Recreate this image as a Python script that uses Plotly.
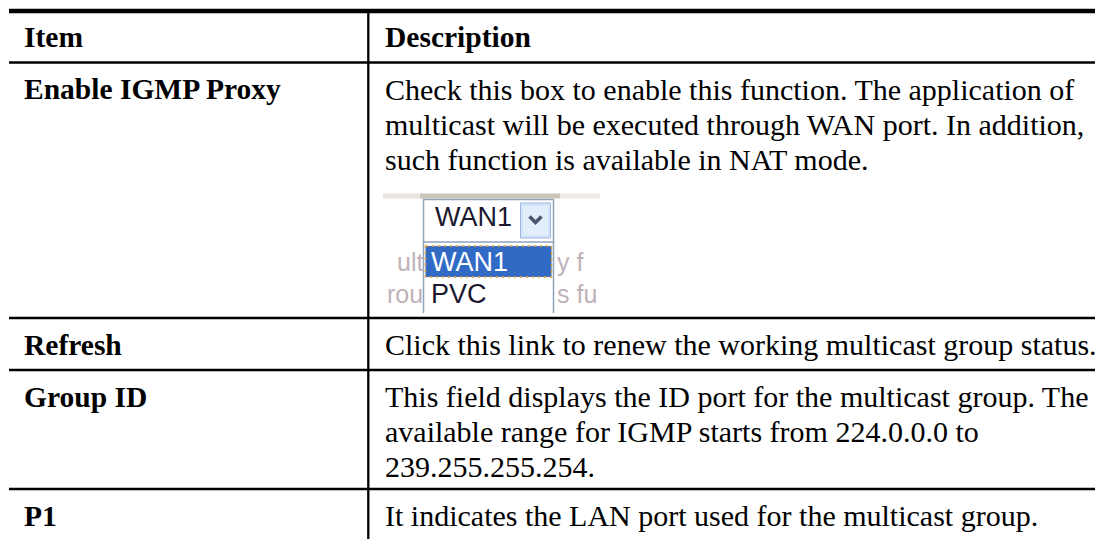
import plotly.graph_objects as go

# ---------------- data ----------------
header = ["Item", "Description"]
items = ["Enable IGMP Proxy", "Refresh", "Group ID", "P1"]
descriptions = [
    ["Check this box to enable this function. The application of",
     "multicast will be executed through WAN port. In addition,",
     "such function is available in NAT mode."],
    ["Click this link to renew the working multicast group status."],
    ["This field displays the ID port for the multicast group. The",
     "available range for IGMP starts from 224.0.0.0 to",
     "239.255.255.254."],
    ["It indicates the LAN port used for the multicast group."],
]
dropdown_value = "WAN1"
dropdown_options = ["WAN1", "PVC"]
faint_left = ["ult", "rou"]
faint_right = ["y f", "s fu"]

# ---------------- layout config ----------------
W, H = 1103, 539
PAGE_OFF = 8          # browser body margin compensation
SERIF = "Liberation Serif, Times New Roman, serif"
SANS = "Liberation Sans, Arial, sans-serif"
FS = 30
FS_B = 29.5
PITCH = 35
TOP = 11
row_lines = [62.5, 318, 370, 489]   # horizontal rules under header and rows
X_LEFT, X_DIV = 9, 368.3
X_ITEM, X_DESC = 23, 384
BASE_OFF = 37

fig = go.Figure()
shapes = []
ann = []


def base_to_mid(b, size):
    return b - 0.34 * size


def text(x, y_base, s, size=FS, bold=False, color="#000", family=SERIF, anchor="left"):
    ann.append(dict(x=x, y=base_to_mid(y_base, size), xref="x", yref="y", text=s,
                    showarrow=False, xanchor=anchor, yanchor="middle",
                    font=dict(family=family, size=size, color=color,
                              weight=700 if bold else 400),
                    borderpad=0))


def hline(y, w):
    shapes.append(dict(type="line", xref="x", yref="y", x0=X_LEFT, x1=W + 20, y0=y, y1=y,
                       line=dict(color="#000", width=w)))


# rules
hline(TOP, 4.5)
for y in row_lines:
    hline(y, 2.4)
shapes.append(dict(type="line", xref="x", yref="y", x0=X_DIV, x1=X_DIV, y0=TOP, y1=H + 20,
                   line=dict(color="#000", width=2.3)))

# header
text(X_ITEM, TOP + 36, header[0], size=FS_B, bold=True)
text(X_DESC, TOP + 36, header[1], size=FS_B, bold=True)

# rows
row_tops = row_lines
for i, (it, lines) in enumerate(zip(items, descriptions)):
    b0 = row_tops[i] + BASE_OFF
    text(X_ITEM, b0, it, size=FS_B, bold=True)
    for j, ln in enumerate(lines):
        text(X_DESC, b0 + j * PITCH, ln)

# ---------------- dropdown screenshot (Enable IGMP Proxy row) ----------------
# soft shadow band at top of the screenshot
for x0, x1, c in [(383, 420, "rgba(190,180,165,0.35)"), (420, 560, "rgba(160,148,125,0.55)"),
                  (560, 600, "rgba(200,190,175,0.3)")]:
    shapes.append(dict(type="line", xref="x", yref="y", x0=x0, x1=x1, y0=196, y1=196,
                       line=dict(color=c, width=5)))

# faint background text behind list
for k, s in enumerate(faint_left):
    text(424, 270 + k * 32, s, size=25, color="#bfb2bb", family=SANS, anchor="right")
for k, s in enumerate(faint_right):
    text(556, 270 + k * 32, s, size=25, color="#bfb2bb", family=SANS, anchor="left")

# list box (open)
shapes.append(dict(type="rect", xref="x", yref="y", x0=423.5, x1=553.5, y0=242, y1=313,
                   fillcolor="#fff", line=dict(width=0)))
for xx in (423.5, 553.5):
    shapes.append(dict(type="line", xref="x", yref="y", x0=xx, x1=xx, y0=242, y1=313,
                       line=dict(color="#8fa3bd", width=1.5)))
# selected option highlight
shapes.append(dict(type="rect", xref="x", yref="y", x0=425.5, x1=551.5, y0=246, y1=277,
                   fillcolor="#316ac5", line=dict(color="#d9a24a", width=1.5, dash="dot")))
# select box
shapes.append(dict(type="rect", xref="x", yref="y", x0=423.5, x1=553.5, y0=199.5, y1=242,
                   fillcolor="#fff", line=dict(color="#8fa3bd", width=1.5)))
# drop button
shapes.append(dict(type="rect", xref="x", yref="y", x0=520.5, x1=550.5, y0=203, y1=238,
                   fillcolor="#d4e4fb", line=dict(color="#9db7df", width=1)))
shapes.append(dict(type="rect", xref="x", yref="y", x0=523, x1=548, y0=206, y1=235,
                   fillcolor="#e3eefd", line=dict(width=0)))
shapes.append(dict(type="path", xref="x", yref="y",
                   path="M 529.5 216.5 L 535.5 222.5 L 541.5 216.5",
                   line=dict(color="#4a5670", width=3.5)))

text(434, 226, dropdown_value, size=27, color="#1c1830", family=SANS)
text(430, 271, dropdown_options[0], size=27, color="#ffffff", family=SANS)
text(430, 303, dropdown_options[1], size=27, color="#1c1830", family=SANS)

fig.update_layout(
    width=W, height=H,
    margin=dict(l=0, r=0, t=0, b=0),
    paper_bgcolor="#fff", plot_bgcolor="#fff",
    xaxis=dict(range=[PAGE_OFF, W + PAGE_OFF], visible=False, fixedrange=True),
    yaxis=dict(range=[H + PAGE_OFF, PAGE_OFF], visible=False, fixedrange=True),
    shapes=shapes, annotations=ann, showlegend=False,
)

fig.write_html("out.html", config={"displayModeBar": False})
